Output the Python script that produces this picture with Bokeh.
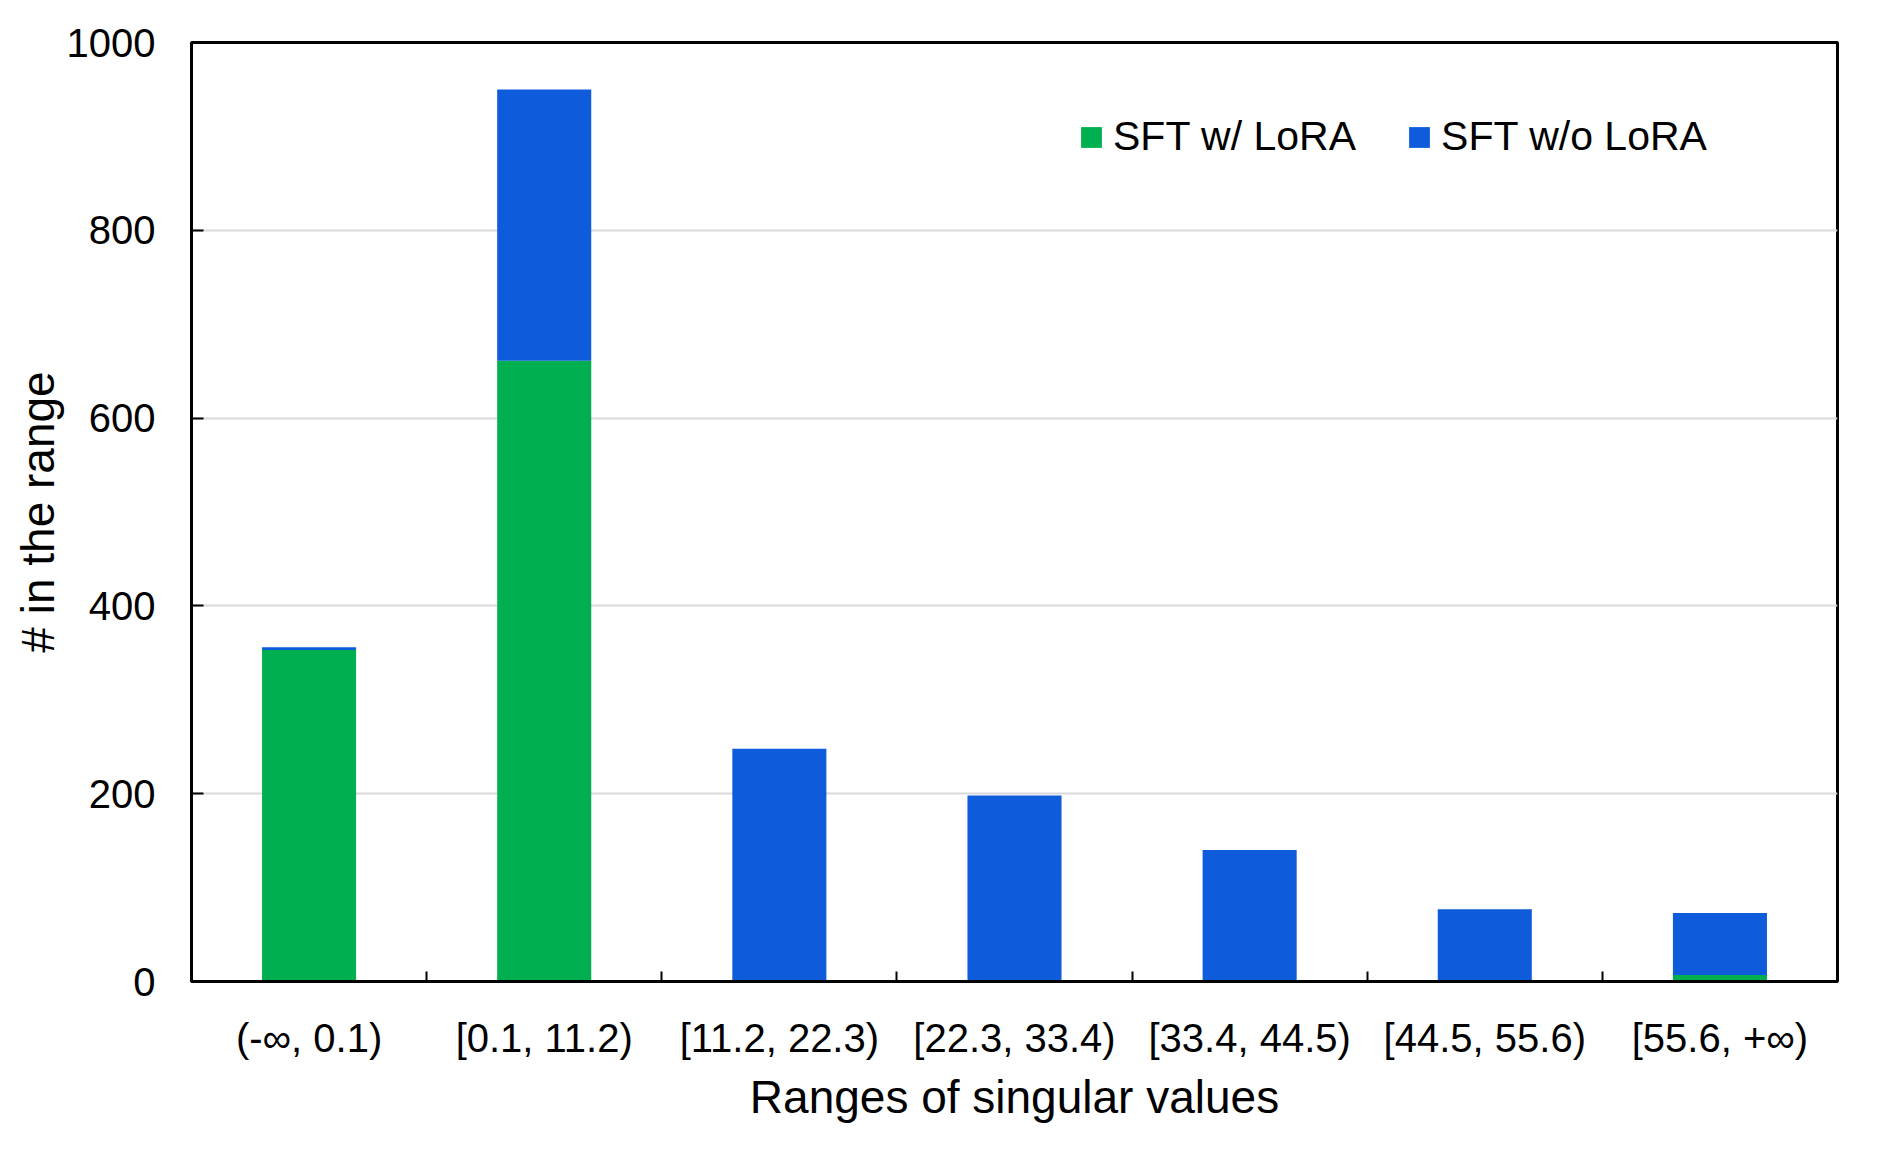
from bokeh.plotting import figure
from bokeh.models import ColumnDataSource, FixedTicker, Legend, LegendItem, Range1d
from bokeh.embed import file_html
from bokeh.resources import INLINE

categories = ["(-\u221e, 0.1)", "[0.1, 11.2)", "[11.2, 22.3)", "[22.3, 33.4)",
              "[33.4, 44.5)", "[44.5, 55.6)", "[55.6, +\u221e)"]
sft_lora = [353, 661, 0, 0, 0, 0, 7]
sft_no_lora = [3, 289, 248, 198, 140, 77, 66]
y_ticks = [0, 200, 400, 600, 800, 1000]

GREEN = "#00B050"
BLUE = "#0E5BDC"
SANS = "Liberation Sans"

xpos = [i + 0.5 for i in range(len(categories))]
src = ColumnDataSource(dict(x=xpos, lora=sft_lora, nolora=sft_no_lora))

p = figure(width=1880, height=1160, output_backend="svg", toolbar_location=None,
           x_range=Range1d(0, len(categories)), y_range=Range1d(0, 1000),
           min_border_left=191, min_border_right=43, min_border_top=42,
           min_border_bottom=179)

rs = p.vbar_stack(["lora", "nolora"], x="x", width=0.4, source=src,
                  color=[GREEN, BLUE], line_color=None)

p.outline_line_color = "black"
p.outline_line_width = 3

# x axis
xa = p.xaxis[0]
xa.ticker = FixedTicker(ticks=xpos, minor_ticks=[i for i in range(1, len(categories))])
xa.major_label_overrides = {x: c for x, c in zip(xpos, categories)}
xa.major_tick_line_color = None
xa.minor_tick_in = 10
xa.minor_tick_out = 0
xa.minor_tick_line_color = "black"
xa.minor_tick_line_width = 2
xa.axis_line_width = 3
xa.axis_line_color = "black"
xa.major_label_text_font = SANS
xa.major_label_text_font_size = "40px"
xa.major_label_text_color = "black"
xa.major_label_standoff = 28
xa.axis_label = "Ranges of singular values"
xa.axis_label_text_font = SANS
xa.axis_label_text_font_size = "46px"
xa.axis_label_text_font_style = "normal"
xa.axis_label_text_color = "black"
xa.axis_label_standoff = 8

# y axis
ya = p.yaxis[0]
ya.ticker = FixedTicker(ticks=y_ticks, minor_ticks=[])
ya.major_tick_in = 12
ya.major_tick_out = 0
ya.major_tick_line_width = 2
ya.major_tick_line_color = "black"
ya.axis_line_width = 3
ya.axis_line_color = "black"
ya.major_label_text_font = SANS
ya.major_label_text_font_size = "40px"
ya.major_label_text_color = "black"
ya.major_label_standoff = 36
ya.axis_label = "# in the range"
ya.axis_label_text_font = SANS
ya.axis_label_text_font_size = "46px"
ya.axis_label_text_font_style = "normal"
ya.axis_label_text_color = "black"
ya.axis_label_standoff = 0

p.xgrid.grid_line_color = None
p.ygrid.grid_line_color = "#d9d9d9"
p.ygrid.grid_line_width = 2

legend = Legend(items=[LegendItem(label="SFT w/ LoRA", renderers=[rs[0]]),
                       LegendItem(label="SFT w/o LoRA", renderers=[rs[1]])],
                location=(887, 821), orientation="horizontal",
                glyph_width=26, glyph_height=26, label_standoff=9, spacing=50,
                padding=0, margin=0, border_line_color=None,
                background_fill_alpha=0,
                label_text_font=SANS, label_text_font_size="41px",
                label_text_color="black")
p.add_layout(legend, "center")

open("out.html", "w").write(file_html(p, INLINE))
